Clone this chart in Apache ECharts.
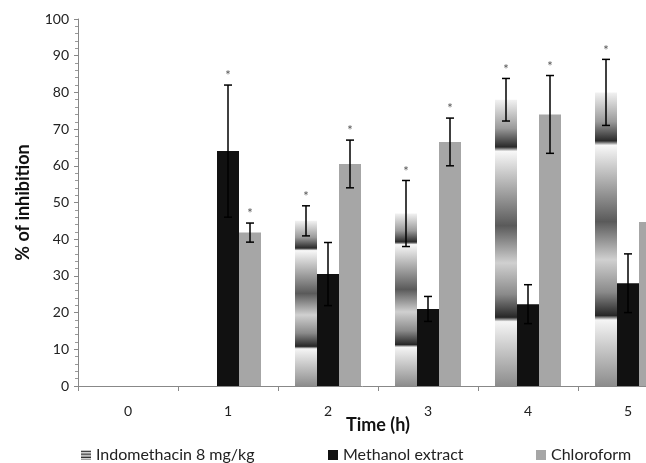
<!DOCTYPE html>
<html>
<head>
<meta charset="utf-8">
<title></title>
<script src="https://cdn.jsdelivr.net/npm/echarts@6/dist/echarts.min.js"></script>
</head>
<body style="margin:0;background:#fff">
<div id="main" style="width:646px;height:463px"></div>
<script type="text/javascript">
// data
var hours = ['0', '1', '2', '3', '4', '5'];
var indometh = [0, 0, 45, 47, 78, 80];
var indomethErr = [0, 0, 4.1, 9, 5.8, 9];
var methanol = [0, 64, 30.5, 21, 22.3, 28];
var methanolErr = [0, 18, 8.6, 3.4, 5.3, 8];
var chloro = [0, 41.8, 60.5, 66.5, 74, 44.7];
var chloroErr = [0, 2.6, 6.5, 6.5, 10.6, 0];
// significance stars
var indomethStar = [0, 0, 1, 1, 1, 1];
var methanolStar = [0, 1, 0, 0, 0, 0];
var chloroStar = [0, 1, 1, 1, 1, 1];

var font = 'Lato, "Open Sans", sans-serif';
var myChart = echarts.init(document.getElementById('main'));

// banded grey fill of the indomethacin bars
var metal = {
  type: 'linear', x: 0, y: 0, x2: 0, y2: 1,
  colorStops: [
    {offset: 0, color: '#f2f2f2'},
    {offset: 0.1, color: '#9a9a9a'},
    {offset: 0.165, color: '#2a2a2a'},
    {offset: 0.18, color: '#f8f8f8'},
    {offset: 0.44, color: '#5a5a5a'},
    {offset: 0.57, color: '#d0d0d0'},
    {offset: 0.68, color: '#8a8a8a'},
    {offset: 0.76, color: '#262626'},
    {offset: 0.775, color: '#f5f5f5'},
    {offset: 1, color: '#8c8c8c'}
  ]
};

function errData(vals, errs, stars) {
  var out = [];
  for (var i = 0; i < vals.length; i++) out.push([i, vals[i], errs[i], stars[i]]);
  return out;
}

function errRender(shift) {
  return function (params, api) {
    var i = api.value(0), v = api.value(1), e = api.value(2), s = api.value(3);
    if (!v) return;
    var bw = api.size([1, 0])[0] * 0.22;
    var hi = api.coord([i, v + e]);
    var lo = api.coord([i, v - e]);
    var x = hi[0] + shift * bw;
    var st = {stroke: '#000', lineWidth: 1.5};
    var kids = [];
    if (e > 0) {
      kids.push({type: 'line', shape: {x1: x, y1: hi[1], x2: x, y2: lo[1]}, style: st});
      kids.push({type: 'line', shape: {x1: x - 4, y1: hi[1], x2: x + 4, y2: hi[1]}, style: st});
      kids.push({type: 'line', shape: {x1: x - 4, y1: lo[1], x2: x + 4, y2: lo[1]}, style: st});
    }
    if (s) {
      kids.push({type: 'text', style: {text: '*', x: x, y: hi[1] - 9, align: 'center',
        verticalAlign: 'middle', fill: '#555', font: '13px ' + font}});
    }
    return {type: 'group', children: kids};
  };
}

var legendText = {fontFamily: font, fontSize: 16, color: '#222'};

var option = {
  animation: false,
  backgroundColor: '#fff',
  // plot runs past the right edge, as in the cropped original
  grid: {left: 78, width: 600, top: 19, height: 367, outerBoundsMode: 'none'},
  legend: [
    {data: ['Indomethacin 8 mg/kg'], left: 76, top: 442, icon: 'rect', itemWidth: 10, itemHeight: 10,
     itemGap: 4, textStyle: legendText},
    {data: ['Methanol extract'], left: 323, top: 442, icon: 'rect', itemWidth: 10, itemHeight: 10,
     textStyle: legendText},
    {data: ['Chloroform'], left: 531, top: 442, icon: 'rect', itemWidth: 10, itemHeight: 10,
     textStyle: legendText}
  ],
  xAxis: {
    type: 'category',
    data: hours,
    name: 'Time (h)',
    nameLocation: 'middle',
    nameGap: 30,
    nameMoveOverlap: false,
    nameTextStyle: {fontFamily: font, fontSize: 18, fontWeight: 'bold', color: '#111'},
    axisLine: {lineStyle: {color: '#888'}},
    axisTick: {show: true, length: 5, lineStyle: {color: '#888'}},
    axisLabel: {fontFamily: font, fontSize: 14, color: '#222', margin: 18}
  },
  yAxis: {
    type: 'value',
    min: 0, max: 100, interval: 10,
    name: '% of inhibition',
    nameLocation: 'middle',
    nameGap: 46,
    nameTextStyle: {fontFamily: font, fontSize: 18, fontWeight: 'bold', color: '#111'},
    axisLine: {show: true, lineStyle: {color: '#888'}},
    axisTick: {show: true, length: 4, lineStyle: {color: '#888'}},
    minorTick: {show: true, splitNumber: 5, length: 3, lineStyle: {color: '#999'}},
    splitLine: {show: false},
    axisLabel: {fontFamily: font, fontSize: 14, color: '#222', margin: 9}
  },
  series: [
    {name: 'Indomethacin 8 mg/kg', type: 'bar', data: indometh, barWidth: 22, barGap: '0%',
     itemStyle: {color: metal}},
    {name: 'Methanol extract', type: 'bar', data: methanol, barWidth: 22,
     itemStyle: {color: '#111'}},
    {name: 'Chloroform', type: 'bar', data: chloro, barWidth: 22,
     itemStyle: {color: '#a6a6a6'}},
    {type: 'custom', renderItem: errRender(-1), data: errData(indometh, indomethErr, indomethStar), z: 5},
    {type: 'custom', renderItem: errRender(0), data: errData(methanol, methanolErr, methanolStar), z: 5},
    {type: 'custom', renderItem: errRender(1), data: errData(chloro, chloroErr, chloroStar), z: 5}
  ]
};
myChart.setOption(option);
</script>
</body>
</html>
